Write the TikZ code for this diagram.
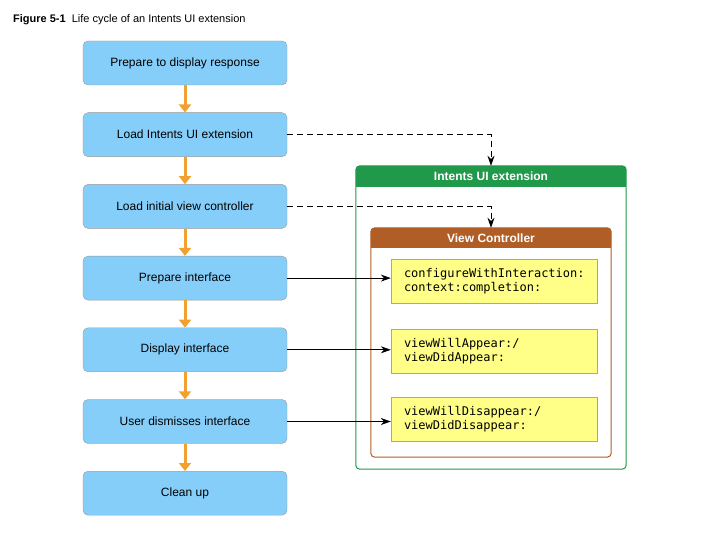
\documentclass[tikz,border=0pt]{standalone}
\usepackage{fontspec}
\setmainfont{Liberation Sans}
\setmonofont{DejaVu Sans Mono}
\usepackage{tikz}
\usetikzlibrary{positioning,arrows.meta}
\definecolor{stageblue}{HTML}{86CEFA}
\definecolor{floworange}{HTML}{F2A030}
\definecolor{extgreen}{HTML}{21994A}
\definecolor{vcbrown}{HTML}{B05E26}
\definecolor{methodyellow}{HTML}{FFFF88}
\tikzstyle{stage} = [rectangle, rounded corners=5pt, draw=gray!80, fill=stageblue, minimum width=204pt, minimum height=44pt, font=\fontsize{12}{14}\selectfont]
\tikzstyle{method} = [rectangle, draw=gray!70, fill=methodyellow, text width=180pt, inner xsep=13pt, minimum height=44pt, align=left, font=\fontsize{12}{14}\selectfont\ttfamily]
\tikzstyle{flow} = [floworange, line width=3pt, -{Triangle[width=12pt,length=8pt]}]
\tikzstyle{call} = [thick, -{Stealth[width=7pt,length=10pt]}]
\tikzstyle{load} = [thick, dash pattern=on 6pt off 4pt, -{Stealth[width=7pt,length=10pt]}]
\tikzstyle{header} = [text=white, font=\fontsize{12}{14}\selectfont\bfseries]

\begin{document}
\begin{tikzpicture}[x=1pt, y=1pt, node distance=27.3pt]
	\useasboundingbox (0,0) rectangle (701,541);
	\node[anchor=base west, inner sep=0pt, font=\fontsize{11}{13}\selectfont] (title) at (13,518) {\textbf{Figure 5-1}\ \ Life cycle of an Intents UI extension};

	% containers
	\node[minimum width=270pt, minimum height=303pt, inner sep=0pt] (ext) at (491,223.5) {};
	\fill[extgreen, rounded corners=4pt] (ext.north west) rectangle ([yshift=-21pt]ext.north east);
	\fill[extgreen] ([yshift=-10pt]ext.north west) rectangle ([yshift=-21pt]ext.north east);
	\draw[extgreen, line width=1pt, rounded corners=4pt] (ext.north west) rectangle (ext.south east);
	\node[header] (exttitle) at ([yshift=-10.5pt]ext.north) {Intents UI extension};

	\node[minimum width=240pt, minimum height=229pt, inner sep=0pt] (vc) at (491,198.5) {};
	\fill[vcbrown, rounded corners=4pt] (vc.north west) rectangle ([yshift=-20pt]vc.north east);
	\fill[vcbrown] ([yshift=-10pt]vc.north west) rectangle ([yshift=-20pt]vc.north east);
	\draw[vcbrown, line width=1pt, rounded corners=4pt] (vc.north west) rectangle (vc.south east);
	\node[header] (vctitle) at ([yshift=-10pt]vc.north) {View Controller};

	% methods
	\node[method] (configure) at (494,260) {configureWithInteraction:\\context:completion:};
	\node[method] (appear) at (494,189.5) {viewWillAppear:/\\viewDidAppear:};
	\node[method] (disappear) at (494,122) {viewWillDisappear:/\\viewDidDisappear:};

	% stages
	\node[stage] (prepresp) at (185,478) {Prepare to display response};
	\node[stage, below=of prepresp] (loadext) {Load Intents UI extension};
	\node[stage, below=of loadext] (loadvc) {Load initial view controller};
	\node[stage, below=of loadvc] (prepiface) {Prepare interface};
	\node[stage, below=of prepiface] (display) {Display interface};
	\node[stage, below=of display] (dismiss) {User dismisses interface};
	\node[stage, below=of dismiss] (cleanup) {Clean up};

	\foreach \a/\b in {prepresp/loadext, loadext/loadvc, loadvc/prepiface, prepiface/display, display/dismiss, dismiss/cleanup}
		\draw[flow] (\a.south) -- (\b.north);

	\draw[load] (loadext.east) -| (ext.north);
	\draw[load] (loadvc.east) -| (vc.north);
	\draw[call] (prepiface.east) -- (prepiface.east -| configure.west);
	\draw[call] (display.east) -- (display.east -| appear.west);
	\draw[call] (dismiss.east) -- (dismiss.east -| disappear.west);
\end{tikzpicture}
\end{document}
